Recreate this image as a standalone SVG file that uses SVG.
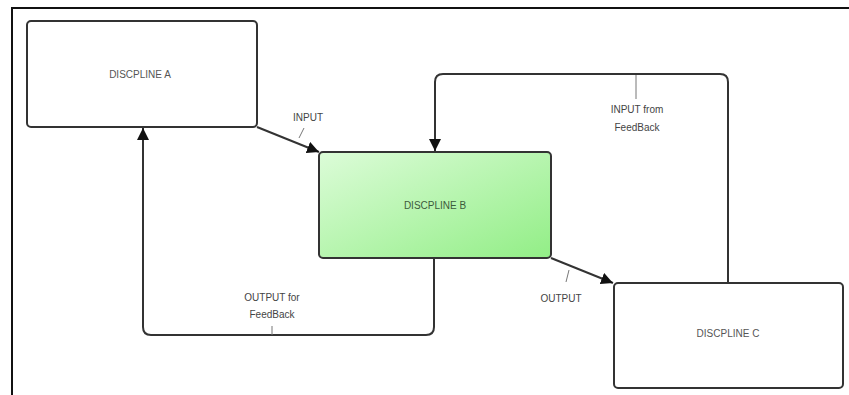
<svg xmlns="http://www.w3.org/2000/svg" width="849" height="395" viewBox="0 0 849 395">
<style>
.node{fill:#fff;stroke:#333;stroke-width:2}
.lbl{font-family:"Liberation Sans",Arial,sans-serif;font-size:10px;fill:#444;text-anchor:middle}
.nlbl{font-family:"Liberation Sans",Arial,sans-serif;font-size:10px;fill:#555;text-anchor:middle}
.conn{fill:none;stroke:#333;stroke-width:2}
.lead{fill:none;stroke:#777;stroke-width:1}
</style>
<defs>
<linearGradient id="gB" x1="0" y1="0" x2="1" y2="1">
<stop offset="0" stop-color="#dcfcd8"/>
<stop offset="1" stop-color="#92ee86"/>
</linearGradient>
<marker id="arr" viewBox="0 0 10 10" refX="10" refY="5" markerWidth="6" markerHeight="6" orient="auto" markerUnits="strokeWidth">
<path d="M0,0 L10,5 L0,10 z" fill="#111"/>
</marker>
</defs>
<rect width="849" height="395" fill="#fff"/>
<path d="M12,395 V8 H849" fill="none" stroke="#111" stroke-width="2"/>
<g id="connectors">
<path class="conn" d="M257,127 L319,152" marker-end="url(#arr)"/>
<path class="conn" d="M551,258 L613,283" marker-end="url(#arr)"/>
<path class="conn" d="M434,259 V327 Q434,335 426,335 H151 Q143,335 143,327 V128" marker-end="url(#arr)"/>
<path class="conn" d="M728,282 V82 Q728,74 720,74 H443 Q435,74 435,82 V151" marker-end="url(#arr)"/>
<path class="lead" d="M304,128 L299,138"/>
<path class="lead" d="M569,270 L566,282"/>
<path class="lead" d="M636,75 V99"/>
<path class="lead" d="M272,326 V335"/>
<text class="lbl" x="308" y="121">INPUT</text>
<text class="lbl" x="561" y="302">OUTPUT</text>
<text class="lbl" x="637" y="113">INPUT from</text>
<text class="lbl" x="637" y="131">FeedBack</text>
<text class="lbl" x="272" y="301">OUTPUT for</text>
<text class="lbl" x="272" y="318">FeedBack</text>
</g>
<g id="nodeA">
<rect class="node" x="27" y="21" width="230" height="106" rx="4"/>
<text class="nlbl" x="140" y="78">DISCPLINE A</text>
</g>
<g id="nodeB">
<rect x="319" y="152" width="232" height="106" rx="4" fill="url(#gB)" stroke="#333" stroke-width="2"/>
<text class="nlbl" x="435" y="209" fill="#3c5a3c" style="fill:#3c5a3c">DISCPLINE B</text>
</g>
<g id="nodeC">
<rect class="node" x="614" y="283" width="229" height="105" rx="4"/>
<text class="nlbl" x="728" y="337">DISCPLINE C</text>
</g>
</svg>
